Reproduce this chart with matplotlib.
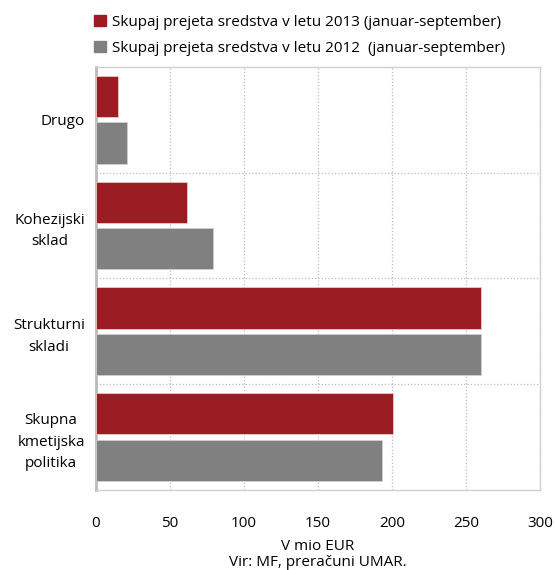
import numpy as np
import matplotlib
matplotlib.use("Agg")
import matplotlib.pyplot as plt
from matplotlib.patches import Patch

plt.rcParams['font.family'] = ['Open Sans', 'DejaVu Sans']

categories = ["Drugo", "Kohezijski\nsklad", "Strukturni\nskladi", "Skupna\nkmetijska\npolitika"]
values_2013 = [15, 61.5, 260, 200.5]
values_2012 = [21, 79, 260, 193]
label_2013 = "Skupaj prejeta sredstva v letu 2013 (januar-september)"
label_2012 = "Skupaj prejeta sredstva v letu 2012  (januar-september)"
red = "#9b1c22"
grey = "#808080"

fig = plt.figure(figsize=(5.55, 5.70), dpi=100)
ax = fig.add_axes([0.173, 0.1404, 0.8, 0.7421])

y = np.arange(len(categories))
ax.barh(y - 0.22, values_2013, height=0.39, color=red, edgecolor="#e8c8c8", linewidth=0.6, zorder=3)
ax.barh(y + 0.22, values_2012, height=0.39, color=grey, edgecolor="#d0d0d0", linewidth=0.6, zorder=3)

ax.set_xlim(0, 300)
ax.set_ylim(3.5, -0.5)
ax.set_xticks(np.arange(0, 301, 50))
ax.set_yticks(y)
ax.set_yticklabels(categories, fontsize=11, linespacing=1.6, multialignment="center")
ax.set_yticks([0.5, 1.5, 2.5], minor=True)
ax.tick_params(axis="both", which="both", length=0)
ax.tick_params(axis="x", labelsize=11, pad=19)
ax.tick_params(axis="y", pad=8)

ax.grid(axis="x", which="major", color="#bbbbbb", linestyle=":", linewidth=0.9, zorder=0)
ax.grid(axis="y", which="minor", color="#bbbbbb", linestyle=":", linewidth=0.9, zorder=0)
ax.grid(axis="y", which="major", visible=False)

for s in ["top", "right", "bottom"]:
    ax.spines[s].set_color("#d0d0d0")
    ax.spines[s].set_linewidth(1.0)
ax.spines["left"].set_color("#bbbbbb")
ax.spines["left"].set_linewidth(2.0)

fig.text(0.572, 0.042, "V mio EUR", ha="center", va="center", fontsize=11)
fig.text(0.572, 0.013, "Vir: MF, preračuni UMAR.", ha="center", va="center", fontsize=11)

handles = [Patch(color=red), Patch(color=grey)]
fig.legend(handles, [label_2013, label_2012], loc="upper left", bbox_to_anchor=(0.145, 0.998),
           frameon=False, fontsize=11, handlelength=0.75, handleheight=0.75, handletextpad=0.4,
           labelspacing=0.7)

fig.savefig("out.png", dpi=100)
